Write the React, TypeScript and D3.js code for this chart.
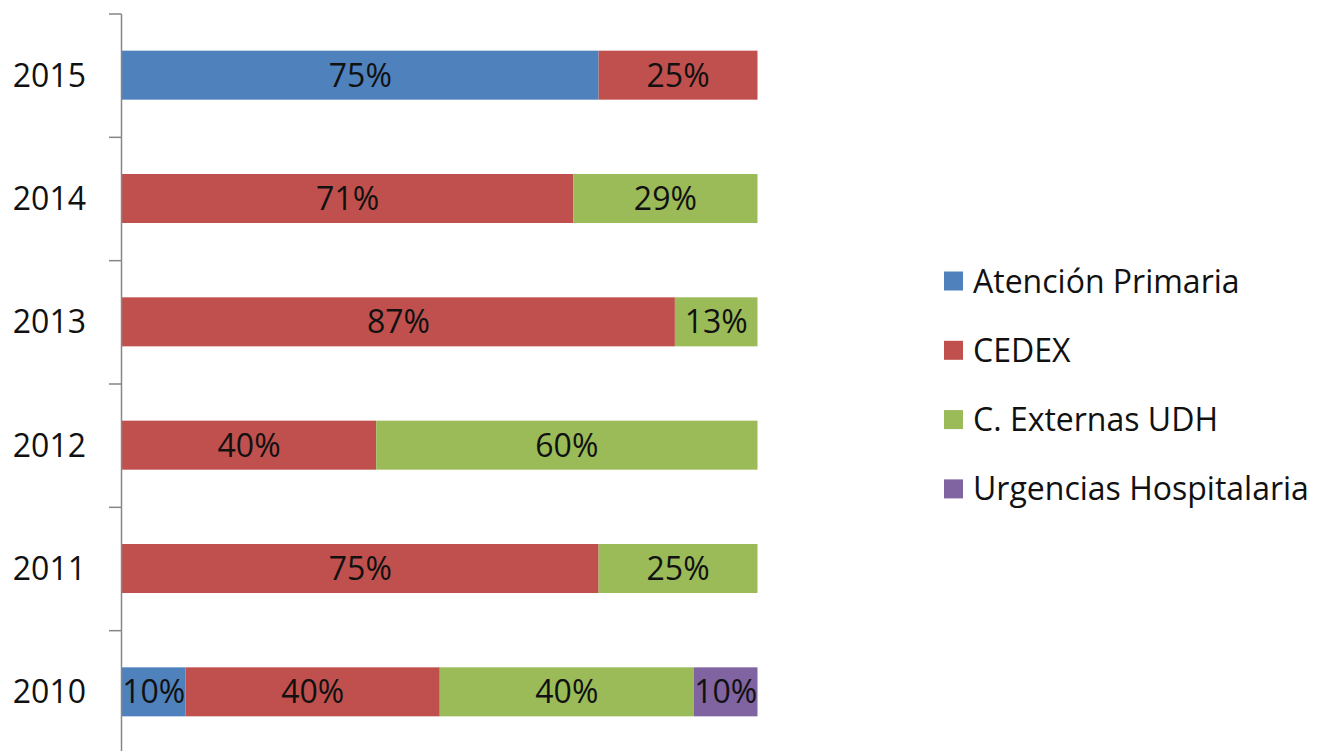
import React from "react";
import * as d3 from "d3";

const years = ["2015", "2014", "2013", "2012", "2011", "2010"];
const seriesNames = ["Atención Primaria", "CEDEX", "C. Externas UDH", "Urgencias Hospitalaria"];
const seriesColors = ["#4F81BD", "#C0504D", "#9BBB59", "#8064A2"];
const atencionPrimaria = [75, 0, 0, 0, 0, 10];
const cedex = [25, 71, 87, 40, 75, 40];
const cExternas = [0, 29, 13, 60, 25, 40];
const urgencias = [0, 0, 0, 0, 0, 10];

const W = 1327;
const H = 751;
const FONT = "'Open Sans', Lato, sans-serif";

export default function App() {
  const rows = years.map((y, i) => ({
    year: y,
    s0: atencionPrimaria[i],
    s1: cedex[i],
    s2: cExternas[i],
    s3: urgencias[i],
  }));
  const keys = ["s0", "s1", "s2", "s3"];
  const stacked = d3.stack<any>().keys(keys)(rows);

  const x = d3.scaleLinear().domain([0, 100]).range([122, 757.5]);
  const yOuter = d3.scaleBand().domain(years).range([14, 754]);
  const bh = 49;

  return (
    <svg width={W} height={H} style={{ position: "absolute", left: 0, top: 0, background: "#fff" }}>
      {stacked.map((layer, si) => (
        <g key={si}>
          {layer.map((d, i) => {
            const v = d[1] - d[0];
            if (v <= 0) return null;
            const yc = (yOuter(years[i]) as number) + yOuter.bandwidth() / 2 - 0.5;
            const x0 = x(d[0]);
            const x1 = x(d[1]);
            return (
              <g key={i}>
                <rect x={x0} y={yc - bh / 2} width={x1 - x0} height={bh} fill={seriesColors[si]} />
                <text
                  x={(x0 + x1) / 2}
                  y={yc}
                  dy="0.36em"
                  textAnchor="middle"
                  fontFamily={FONT}
                  fontSize={32}
                  fill="#111"
                >
                  {v}%
                </text>
              </g>
            );
          })}
        </g>
      ))}
      {/* axis */}
      <line x1={121.5} x2={121.5} y1={14} y2={754} stroke="#868686" strokeWidth={1.5} />
      {years.map((yr) => (
        <line
          key={"t" + yr}
          x1={109}
          x2={121.5}
          y1={yOuter(yr) as number}
          y2={yOuter(yr) as number}
          stroke="#868686"
          strokeWidth={1.5}
        />
      ))}
      {years.map((yr) => (
        <text
          key={"l" + yr}
          x={86}
          y={(yOuter(yr) as number) + yOuter.bandwidth() / 2 - 0.5}
          dy="0.36em"
          textAnchor="end"
          fontFamily={FONT}
          fontSize={32}
          fill="#111"
        >
          {yr}
        </text>
      ))}
      {/* legend */}
      {seriesNames.map((n, i) => {
        const cy = 281 + i * 69.3;
        return (
          <g key={"lg" + i}>
            <rect x={944} y={cy - 9.5} width={19} height={19} fill={seriesColors[i]} />
            <text x={973} y={cy} dy="0.36em" fontFamily={FONT} fontSize={32} fill="#111">
              {n}
            </text>
          </g>
        );
      })}
    </svg>
  );
}
